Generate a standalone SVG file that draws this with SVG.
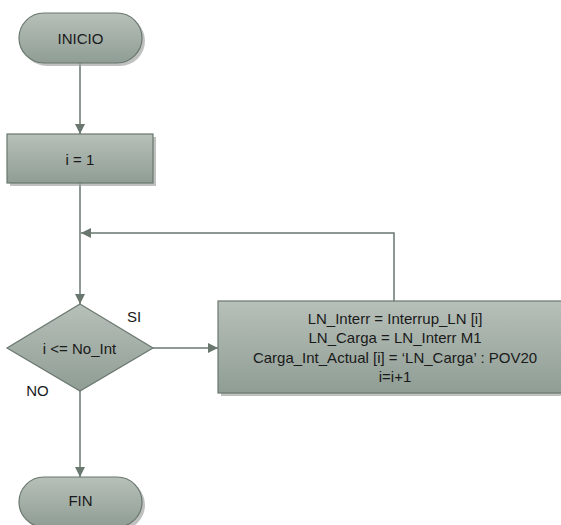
<svg xmlns="http://www.w3.org/2000/svg" width="561" height="525" viewBox="0 0 561 525">
  <defs>
    <linearGradient id="fillGrad" x1="0" y1="0" x2="0" y2="1">
      <stop offset="0" stop-color="#b7c0b9"/>
      <stop offset="1" stop-color="#8f9d94"/>
    </linearGradient>
    <marker id="arrow" viewBox="0 0 10 10" refX="10" refY="5" markerWidth="10" markerHeight="10" markerUnits="userSpaceOnUse" orient="auto">
      <path d="M0,0 L10,5 L0,10 z" fill="#6a776f"/>
    </marker>
  </defs>
  <style>
    .shape { fill: url(#fillGrad); stroke: #6a776f; stroke-width: 1.2; }
    .shadow { fill: #a3a7a4; opacity: 0.7; }
    .edge { fill: none; stroke: #6a776f; stroke-width: 1.5; }
    text { font-family: "Liberation Sans", Arial, sans-serif; font-size: 15px; fill: #1a1a1a; text-anchor: middle; }
  </style>

  <rect width="561" height="525" fill="#ffffff"/>

  <g id="connectors">
    <line class="edge" x1="80" y1="63" x2="80" y2="134" marker-end="url(#arrow)"/>
    <line class="edge" x1="80" y1="183" x2="80" y2="304" marker-end="url(#arrow)"/>
    <line class="edge" x1="153" y1="348" x2="218" y2="348" marker-end="url(#arrow)"/>
    <polyline class="edge" points="394,301 394,233 81,233" marker-end="url(#arrow)"/>
    <line class="edge" x1="80" y1="391" x2="80" y2="477" marker-end="url(#arrow)"/>
  </g>

  <g id="inicio">
    <rect class="shadow" x="22" y="16" width="123" height="50" rx="25"/>
    <rect class="shape" x="19" y="13" width="123" height="50" rx="25"/>
    <text x="80.5" y="43.5">INICIO</text>
  </g>

  <g id="init">
    <rect class="shadow" x="10" y="137" width="146" height="49"/>
    <rect class="shape" x="7" y="134" width="146" height="49"/>
    <text x="80" y="165">i = 1</text>
  </g>

  <g id="decision">
    <polygon class="shape" points="80,304 153,348 80,391 7,348"/>
    <text x="79.5" y="354">i &lt;= No_Int</text>
  </g>

  <g id="process">
    <rect class="shadow" x="221" y="304" width="354" height="92"/>
    <rect class="shape" x="218" y="301" width="354" height="92"/>
    <text x="395" y="323.5">LN_Interr = Interrup_LN [i]</text>
    <text x="395" y="343">LN_Carga = LN_Interr M1</text>
    <text x="395" y="362.5">Carga_Int_Actual [i] = ‘LN_Carga’ : POV20</text>
    <text x="395" y="382">i=i+1</text>
  </g>

  <g id="fin">
    <rect class="shadow" x="22" y="480" width="123" height="50" rx="25"/>
    <rect class="shape" x="19" y="477" width="123" height="50" rx="25"/>
    <text x="80.5" y="505.5">FIN</text>
  </g>

  <g id="labels">
    <text x="134" y="322">SI</text>
    <text x="37.5" y="396">NO</text>
  </g>
</svg>
